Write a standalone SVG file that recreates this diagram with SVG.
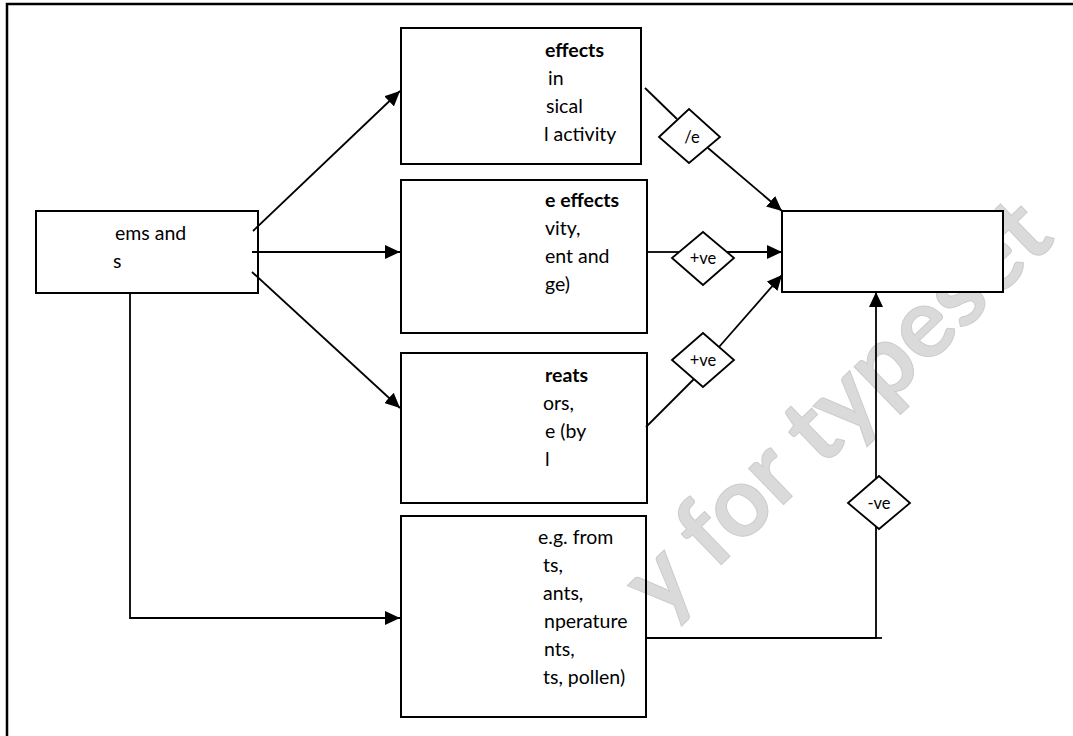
<svg xmlns="http://www.w3.org/2000/svg" width="1073" height="736" viewBox="0 0 1073 736">
<defs>
<style>
.box{fill:none;stroke:#000;stroke-width:2}
.dia{fill:#fff;stroke:#000;stroke-width:1.8}
.ln{fill:none;stroke:#000;stroke-width:1.8}
.t{font-family:Lato,"Open Sans",sans-serif;font-size:19.5px;fill:#000}
.b{font-weight:bold}
.d{font-family:Lato,"Open Sans",sans-serif;font-size:16.5px;fill:#000;text-anchor:middle}
.wm{font-family:Lato,"Open Sans",sans-serif;font-size:98px;font-weight:bold;fill:#dadada;stroke:#cccccc;stroke-width:1}
</style>
<marker id="ah" viewBox="0 0 15 14" refX="15" refY="7" markerWidth="15" markerHeight="14" markerUnits="userSpaceOnUse" orient="auto">
<path d="M0,0 L15,7 L0,14 z" fill="#000"/>
</marker>
</defs>
<rect width="1073" height="736" fill="#fff"/>
<g id="watermark">
<text class="wm" transform="translate(662,622) rotate(-44)">y for typeset</text>
</g>
<rect id="frame" x="7" y="4" width="1100" height="800" fill="none" stroke="#000" stroke-width="2.5"/>
<g id="connectors">
<line class="ln" x1="253" y1="231" x2="400" y2="91" marker-end="url(#ah)"/>
<line class="ln" x1="252" y1="252" x2="400" y2="252" marker-end="url(#ah)"/>
<line class="ln" x1="252" y1="272" x2="400" y2="408" marker-end="url(#ah)"/>
<polyline class="ln" points="130,293 130,618 400,618" marker-end="url(#ah)"/>
<line class="ln" x1="645" y1="88" x2="677" y2="119"/>
<line class="ln" x1="708" y1="148" x2="782" y2="211" marker-end="url(#ah)"/>
<line class="ln" x1="647" y1="252" x2="679" y2="252"/>
<line class="ln" x1="727" y1="252" x2="782" y2="252" marker-end="url(#ah)"/>
<line class="ln" x1="646" y1="427" x2="694" y2="379"/>
<line class="ln" x1="719" y1="347" x2="782" y2="275" marker-end="url(#ah)"/>
<polyline class="ln" points="646,638 876,638 876,527"/>
<line class="ln" x1="876" y1="638" x2="882" y2="638"/>
<line class="ln" x1="876" y1="479" x2="876" y2="292" marker-end="url(#ah)"/>
</g>
<g id="node-source">
<rect class="box" x="36" y="211" width="222" height="82"/>
<text class="t" x="115" y="240">ems and</text>
<text class="t" x="113" y="268">s</text>
</g>
<g id="node-physical">
<rect class="box" x="401" y="28" width="240" height="136"/>
<text class="t b" x="545" y="56.5">effects</text>
<text class="t" x="548" y="85">in</text>
<text class="t" x="546" y="113">sical</text>
<text class="t" x="544" y="141">l activity</text>
</g>
<g id="node-positive">
<rect class="box" x="401" y="180" width="246" height="153"/>
<text class="t b" x="545" y="207">e effects</text>
<text class="t" x="545" y="235">vity,</text>
<text class="t" x="545" y="263">ent and</text>
<text class="t" x="545" y="291">ge)</text>
</g>
<g id="node-threats">
<rect class="box" x="401" y="353" width="246" height="150"/>
<text class="t b" x="545" y="382">reats</text>
<text class="t" x="543" y="410">ors,</text>
<text class="t" x="545" y="438">e (by</text>
<text class="t" x="545" y="466">l</text>
</g>
<g id="node-exposure">
<rect class="box" x="401" y="516" width="245" height="201"/>
<text class="t" x="538" y="544">e.g. from</text>
<text class="t" x="543" y="572">ts,</text>
<text class="t" x="543" y="600">ants,</text>
<text class="t" x="544" y="628">nperature</text>
<text class="t" x="544" y="656">nts,</text>
<text class="t" x="543" y="684">ts, pollen)</text>
</g>
<g id="node-outcome">
<rect class="box" x="782" y="211" width="221" height="81" style="fill:#fff"/>
</g>
<g id="sign-1">
<polygon class="dia" points="659,137 689,109 720,137 689,163"/>
<text class="d" x="692" y="143">/e</text>
</g>
<g id="sign-2">
<polygon class="dia" points="672,258 703,232 734,258 703,285"/>
<text class="d" x="703" y="264">+ve</text>
</g>
<g id="sign-3">
<polygon class="dia" points="672,360 703,333 734,360 703,387"/>
<text class="d" x="703" y="366">+ve</text>
</g>
<g id="sign-4">
<polygon class="dia" points="848,503 879,476 910,503 879,529"/>
<text class="d" x="879" y="509">-ve</text>
</g>
</svg>
